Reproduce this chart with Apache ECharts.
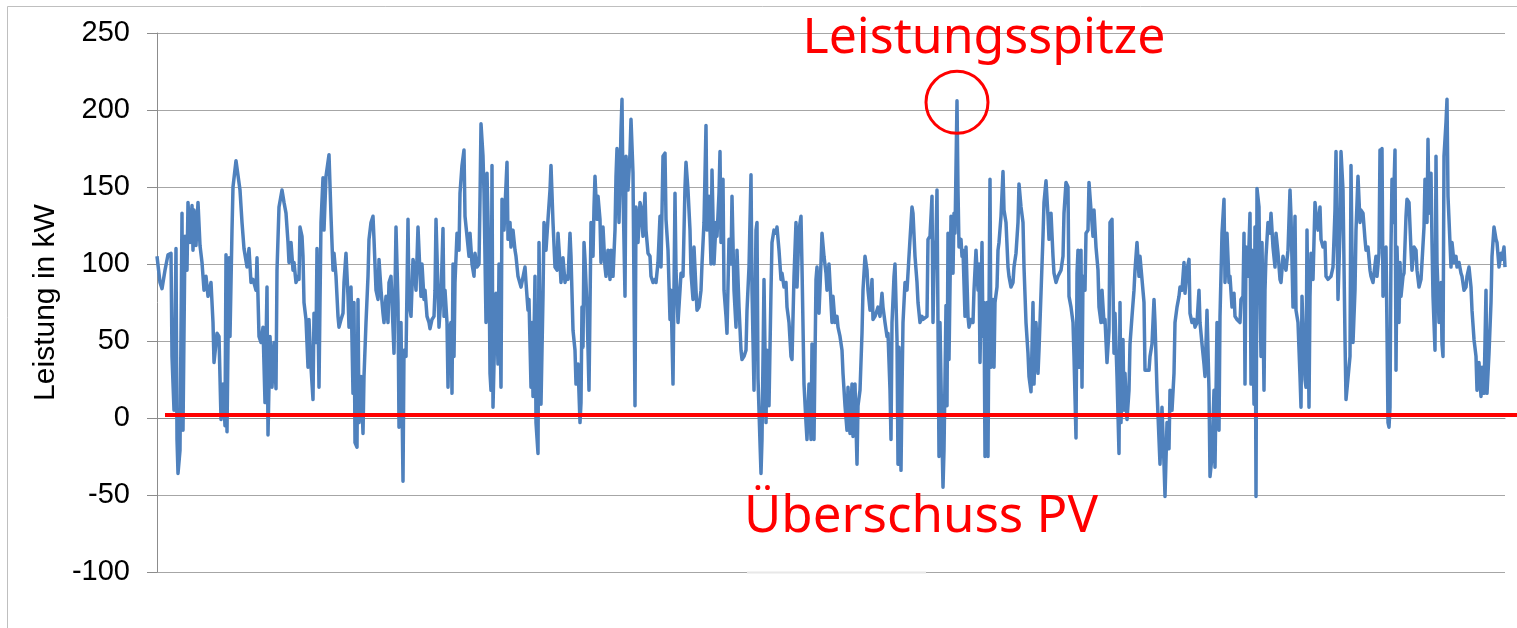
<!DOCTYPE html>
<html>
<head>
<meta charset="utf-8">
<title>Leistung in kW</title>
<script src="https://cdn.jsdelivr.net/npm/echarts@6/dist/echarts.min.js"></script>
<style>
  html, body { margin: 0; padding: 0; background: #fff; }
  #chart { width: 1517px; height: 628px; }
</style>
</head>
<body>
<div id="chart"></div>
<script>
var t1 = [0,3,5,8,11,14,15,17,19,20,21,23,25,26,28,30,31,33,35,36,37,39,41,43,45,47,49,51,54,56,57,60,62,64,66,68,69,70,72,73,75,76,79,81,83,85,87,90,92,94,96,99,100,102,104,106,108,110,111,113,115,117,119,120,122,125,127]
var v1 = [105,88,84,96,106,107,40,5,110,-14,-36,-21,133,-8,118,96,140,114,138,109,135,112,140,112,101,83,92,79,88,62,36,55,53,-1,22,-5,106,-9,104,53,122,150,167,166,148,127,110,98,110,88,90,83,104,53,49,59,10,85,-11,53,20,49,19,96,137,148,140]
var t2 = [129,131,132,134,136,137,139,141,142,143,145,146,147,149,151,152,154,156,157,159,160,162,163,164,166,167,169,171,172,174,176,177,179,181,182,184,186,187,189,191,192,194,196,197,198,200,201,202,204,206,207,209,211,212,214,216,217,219,221,222,224,226,227,229,231,232,234,236,237,239,241,242,244,246,247,249,251,252,254,256,257,259,261,262,264]
var v2 = [133,114,101,114,96,101,88,92,90,124,118,105,75,64,33,64,33,12,68,49,110,20,75,127,156,122,157,157,171,131,96,107,92,66,59,64,68,88,107,79,59,85,16,75,-16,-19,77,-3,27,-10,27,62,92,116,127,131,116,83,77,103,83,68,62,79,62,88,92,92,42,124,75,-6,62,-41,44,40,129,75,66,103,99,83,124,109,79]
var t3 = [265,267,268,270,272,273,275,277,278,279,281,282,284,286,287,288,290,291,292,294,295,296,297,298,300,302,303,305,307,308,310,312,313,315,317,318,320,322,323,324,326,327,329,330,332,333,334,335,336,338,339,341,342,344,345,347,348,350,351,353,354,356,358,359,361,363,364,366,368,369,371,372,374,375,376,378,379,381,382,383,384,386,387,389,391,393,394,396,398,400]
var v3 = [100,77,83,66,62,58,64,66,83,129,83,59,79,123,66,83,62,20,57,62,16,100,40,88,120,109,146,164,174,131,118,105,120,100,92,107,98,100,142,191,170,146,62,159,100,29,18,164,7,62,81,35,100,20,142,122,137,166,116,127,111,122,109,105,92,92,85,85,98,88,70,77,20,62,14,92,-3,-23,114,57,9,79,127,109,129,148,164,127,98,96]
var t4 = [401,403,404,406,408,409,411,413,414,416,418,419,421,423,424,425,426,427,428,430,432,433,434,436,437,438,440,441,443,444,446,448,449,451,453,454,456,458,459,460,462,464,465,466,468,469,471,473,474,476,478,479,481,483,484,486,488,489,491,493,494,496,498,499,501,503,504,506,508,509,511,513,514,516,518,519,521,523,524,526,528,529,531,533,534,536]
var v4 = [120,100,88,104,88,92,90,120,105,57,44,22,35,-3,10,72,46,114,103,72,18,72,127,105,137,157,129,144,129,101,124,98,92,109,90,109,92,122,157,175,127,187,207,148,79,170,148,172,194,159,8,137,114,140,137,118,146,122,107,105,92,88,90,88,101,131,98,170,172,129,109,64,83,22,146,96,62,83,94,92,150,166,148,122,94,77]
var t5 = [537,539,540,542,544,545,547,549,550,552,554,555,557,559,560,562,563,564,566,567,569,570,572,574,575,577,579,580,582,584,585,587,589,590,592,594,595,597,599,600,601,603,604,605,607,609,610,612,614,615,617,619,620,622,624,625,627,629,630,632,634,635,637,639,640,642,644,645,647,649,650,652,654,655,657,659,660,662,664,665,667,669,670,672]
var v5 = [111,83,70,72,83,100,127,190,122,144,100,161,100,127,118,146,173,114,155,83,66,55,116,100,144,83,59,109,72,44,38,40,44,70,98,158,83,18,122,127,26,-16,-36,-14,90,-3,44,8,83,114,122,120,124,109,90,94,85,88,72,62,40,38,92,127,85,122,131,98,22,-3,-14,22,-14,48,-14,90,98,68,101,120,105,94,83,100]
var t6 = [673,675,676,678,680,681,683,685,686,688,690,691,693,695,696,698,700,701,703,705,706,708,710,711,713,715,716,718,720,721,723,725,726,728,730,731,733,734,735,737,738,740,741,742,744,745,746,748,750,751,753,755,756,758,760,761,763,765,766,768,770,771,773,775,776,777,779,780,782,783,785,786,787,789,790,791,792,794,796,797,798,800,801,802,804,805,806,808]
var v6 = [100,62,79,62,66,59,53,44,29,8,-8,20,-10,22,-12,22,-30,8,18,55,83,105,96,83,70,90,64,66,70,72,66,81,72,62,53,55,18,-14,62,92,100,51,-30,46,-34,18,62,88,83,94,116,137,133,105,88,75,62,66,64,64,66,116,118,144,62,96,116,148,-25,62,-14,-45,-21,73,8,120,38,131,94,133,120,206,148,111,116,105,109,66]
var t7 = [809,811,812,814,816,817,819,821,822,823,825,826,827,828,830,831,832,833,834,836,837,838,840,841,842,844,846,847,849,851,852,854,856,857,859,861,862,864,866,867,869,871,872,874,876,877,879,881,882,884,886,887,889,891,892,894,896,897,899,901,902,904,906,907,909,911,912,914,916,917,919,920,921,922,924,925,926,928,929,931,932,934,936,937,939,941,942,944]
var v7 = [111,66,59,64,62,83,109,83,100,36,114,53,75,-25,75,-25,70,155,33,77,33,75,85,109,114,131,160,135,127,98,92,85,88,98,107,127,152,137,127,98,62,42,27,17,75,22,62,29,44,81,118,140,154,131,116,133,105,94,88,92,92,96,105,133,153,150,79,72,62,40,-13,94,109,33,109,20,92,83,120,122,153,135,118,135,111,96,72,62]
var t8 = [945,947,948,950,952,953,955,957,958,960,962,963,964,966,967,968,970,972,973,975,977,978,980,982,983,985,987,988,990,992,993,995,997,998,1000,1002,1003,1005,1007,1008,1010,1012,1013,1015,1017,1018,1020,1022,1023,1025,1027,1028,1030,1032,1033,1035,1037,1038,1040,1042,1043,1045,1047,1048,1050,1052,1053,1055,1057,1058,1060,1062,1063,1065,1067,1068,1070,1072,1073,1075,1077,1078,1080]
var v8 = [83,62,64,36,57,127,129,42,68,27,-23,75,-3,51,5,29,-1,18,48,66,83,96,114,92,105,90,75,31,31,31,40,48,77,62,18,18,-30,7,-30,-51,-3,-20,18,5,29,62,72,79,85,83,101,81,96,103,68,62,64,59,62,83,62,48,35,27,70,18,-38,-25,18,-32,62,-8,66,120,142,88,120,88,92,72,81,66,64]
var t9 = [1081,1083,1084,1086,1087,1088,1089,1091,1093,1094,1095,1097,1098,1099,1100,1102,1103,1104,1105,1107,1108,1109,1111,1113,1114,1116,1118,1119,1121,1123,1124,1126,1128,1129,1131,1133,1134,1136,1138,1139,1141,1143,1144,1145,1147,1148,1149,1150,1152,1153,1154,1156,1158,1159,1161,1163,1164,1166,1168,1169,1171,1173,1174,1176,1178,1179,1181,1183,1184,1186,1188,1189,1191,1193,1194,1196,1198,1199,1201,1203,1204,1206,1208,1209,1211,1213,1214,1216]
var v9 = [64,62,77,79,120,22,111,92,133,22,109,9,124,-51,149,137,79,40,114,18,83,105,127,120,133,111,98,120,107,90,88,105,98,96,109,148,131,72,131,70,62,27,7,79,40,25,20,122,7,79,107,90,140,133,122,137,116,111,114,92,90,90,92,98,135,173,77,122,173,148,51,12,12,40,164,49,83,122,157,127,135,133,116,109,111,96,92,88]
var t10 = [1217,1219,1220,1222,1223,1224,1225,1226,1228,1229,1230,1231,1232,1233,1234,1235,1236,1238,1239,1240,1242,1243,1244,1246,1247,1249,1250,1252,1254,1255,1257,1259,1260,1262,1264,1265,1267,1268,1270,1271,1272,1274,1275,1276,1278,1279,1280,1281,1282,1284,1285,1286,1287,1289,1290,1291,1292,1294,1295,1297,1299,1300,1302,1304,1305,1307,1309,1310,1312,1314,1315,1317,1319,1320,1322,1324,1325,1327,1329,1330,1332,1334,1335,1337,1339,1340,1342,1344,1345,1347,1348]
var v10 = [88,105,92,107,174,111,175,79,101,111,57,-3,-6,7,111,155,127,174,31,111,62,101,79,92,94,131,142,140,109,96,111,109,96,85,90,101,124,155,127,181,133,159,114,79,44,170,101,83,62,88,48,40,170,192,207,144,129,98,114,101,105,98,101,94,92,83,85,92,98,85,70,51,40,18,36,14,33,16,83,16,42,75,105,124,116,114,98,107,103,111,98]

var yMin = -100
var yMax = 250
var yStep = 50
var grenzwert = 2            // rote Null-Linie (Überschuss PV darunter)
var spitze = [800, 205]      // Leistungsspitze (Kreis)

var zeitpunkt = [].concat(t1, t2, t3, t4, t5, t6, t7, t8, t9, t10)
var leistung = [].concat(v1, v2, v3, v4, v5, v6, v7, v8, v9, v10)

function getOption () {
  var points = zeitpunkt.map(function (t, i) { return [t, leistung[i]] })
  return {
    animation: false,
    backgroundColor: '#ffffff',
    grid: {
      left: 157,
      right: 12,
      top: 33,
      bottom: 56,
      containLabel: false,
      outerBoundsMode: 'none'
    },
    xAxis: {
      type: 'value',
      min: 0,
      max: zeitpunkt[zeitpunkt.length - 1],
      axisLine: { show: true, lineStyle: { color: '#8c8c8c', width: 1 } },
      axisTick: { show: false },
      axisLabel: { show: false },
      splitLine: { show: false }
    },
    yAxis: {
      type: 'value',
      min: yMin,
      max: yMax,
      interval: yStep,
      name: 'Leistung in kW',
      nameLocation: 'middle',
      nameGap: 95,
      nameRotate: 90,
      nameTextStyle: { color: '#000', fontSize: 30, fontFamily: 'Liberation Sans' },
      axisLine: { show: true, lineStyle: { color: '#8c8c8c', width: 1 } },
      axisTick: { show: true, inside: false, length: 10, lineStyle: { color: '#8c8c8c' } },
      axisLabel: { color: '#000', fontSize: 29, fontFamily: 'Liberation Sans', margin: 27 },
      splitLine: { show: true, lineStyle: { color: '#a6a6a6', width: 1 } }
    },
    series: [{
      type: 'line',
      data: points,
      showSymbol: false,
      symbol: 'none',
      lineStyle: { color: '#4f81bd', width: 3.5, join: 'round' },
      itemStyle: { color: '#4f81bd' },
      markPoint: {
        silent: true,
        symbol: 'circle',
        symbolSize: 62,
        itemStyle: { color: 'rgba(0,0,0,0)', borderColor: '#ff0000', borderWidth: 3 },
        label: { show: false },
        data: [{ coord: spitze }]
      }
    }]
  }
}

var chart = echarts.init(document.getElementById('chart'))
chart.setOption(getOption())

var yNull = Math.round(chart.convertToPixel({ yAxisIndex: 0 }, grenzwert))
var xStart = chart.convertToPixel({ xAxisIndex: 0 }, 0) + 8
var yUnten = Math.round(chart.convertToPixel({ yAxisIndex: 0 }, yMin)) + 0.5

chart.setOption({
  graphic: [
    {
      type: 'rect',
      silent: true,
      z: 1,
      shape: { x: 7.5, y: 6.5, width: 1600, height: 700 },
      style: { fill: 'none', stroke: '#bfbfbf', lineWidth: 1 }
    },
    {
      type: 'line',
      silent: true,
      z: 50,
      shape: { x1: 747, y1: yUnten, x2: 926, y2: yUnten },
      style: { stroke: '#e8e8e8', lineWidth: 2 }
    },
    {
      type: 'line',
      silent: true,
      z: 100,
      shape: { x1: xStart, y1: yNull, x2: 1517, y2: yNull },
      style: { stroke: '#ff0000', lineWidth: 4 }
    },
    {
      type: 'text',
      silent: true,
      z: 100,
      style: {
        text: 'Leistungsspitze',
        x: 984,
        y: 39,
        fill: '#ff0000',
        fontSize: 50,
        fontFamily: 'Noto Sans',
        align: 'center',
        verticalAlign: 'middle'
      }
    },
    {
      type: 'text',
      silent: true,
      z: 100,
      style: {
        text: 'Überschuss PV',
        x: 921,
        y: 517,
        fill: '#ff0000',
        fontSize: 51,
        fontFamily: 'Noto Sans',
        align: 'center',
        verticalAlign: 'middle'
      }
    }
  ]
})
</script>
</body>
</html>
